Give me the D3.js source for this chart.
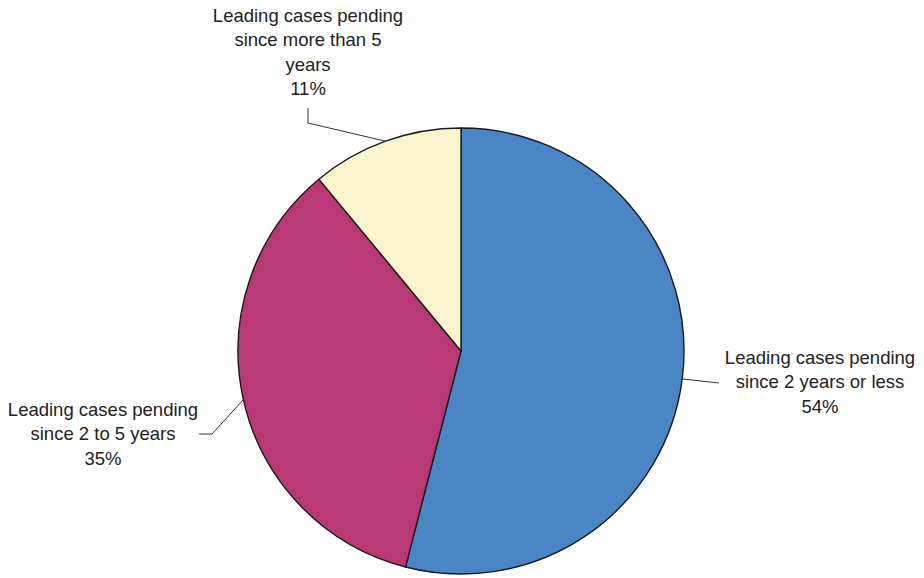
<!DOCTYPE html>
<html>
<head>
  <meta charset="utf-8">
  <title>Leading cases pending</title>
  <script src="https://d3js.org/d3.v7.min.js"></script>
  <style>
    body { margin: 0; background: #fff; }
    text { font-family: "Liberation Sans", Arial, sans-serif; font-size: 18.5px; fill: #222; }
  </style>
</head>
<body>
  <script>
    // Data
    const categories = [
      'Leading cases pending since 2 years or less',
      'Leading cases pending since 2 to 5 years',
      'Leading cases pending since more than 5 years'
    ];
    const values = [54, 35, 11];
    const labelLines = [
      ['Leading cases pending', 'since 2 years or less', '54%'],
      ['Leading cases pending', 'since 2 to 5 years', '35%'],
      ['Leading cases pending', 'since more than 5', 'years', '11%']
    ];
    const colors = ['#4a86c6', '#b73872', '#f9f4cd'];

    const width = 924;
    const height = 578;
    const cx = 461, cy = 351, radius = 223;

    // label layout: text centre x, first baseline y, leader elbow + end point
    const labelLayout = [
      { x: 820, y: 364, pts: [[719, 383]] },
      { x: 103, y: 416, pts: [[212, 434], [199, 434]] },
      { x: 308, y: 22, pts: [[308, 123], [308, 108]] }
    ];
    const lineGap = 24.3;

    const svg = d3.select('body').append('svg')
      .attr('width', width)
      .attr('height', height);

    const pie = d3.pie().sort(null).value(d => d);
    const arcs = pie(values);

    const arc = d3.arc().innerRadius(0).outerRadius(radius);

    const g = svg.append('g').attr('transform', `translate(${cx},${cy})`);

    g.selectAll('path.slice')
      .data(arcs)
      .enter().append('path')
      .attr('class', 'slice')
      .attr('d', arc)
      .attr('fill', (d, i) => colors[i])
      .attr('stroke', '#1a1a1a')
      .attr('stroke-width', 1.4)
      .attr('stroke-linejoin', 'round');

    // leader lines from the slice edge at the mid angle
    const line = d3.line();
    arcs.forEach((d, i) => {
      const a = (d.startAngle + d.endAngle) / 2;
      const start = [cx + radius * Math.sin(a), cy - radius * Math.cos(a)];
      const pts = [start].concat(labelLayout[i].pts);
      svg.append('path')
        .attr('d', line(pts))
        .attr('fill', 'none')
        .attr('stroke', '#333')
        .attr('stroke-width', 1);

      const t = svg.append('text')
        .attr('text-anchor', 'middle');
      labelLines[i].forEach((s, k) => {
        t.append('tspan')
          .attr('x', labelLayout[i].x)
          .attr('y', labelLayout[i].y + k * lineGap)
          .text(s);
      });
    });
  </script>
</body>
</html>
